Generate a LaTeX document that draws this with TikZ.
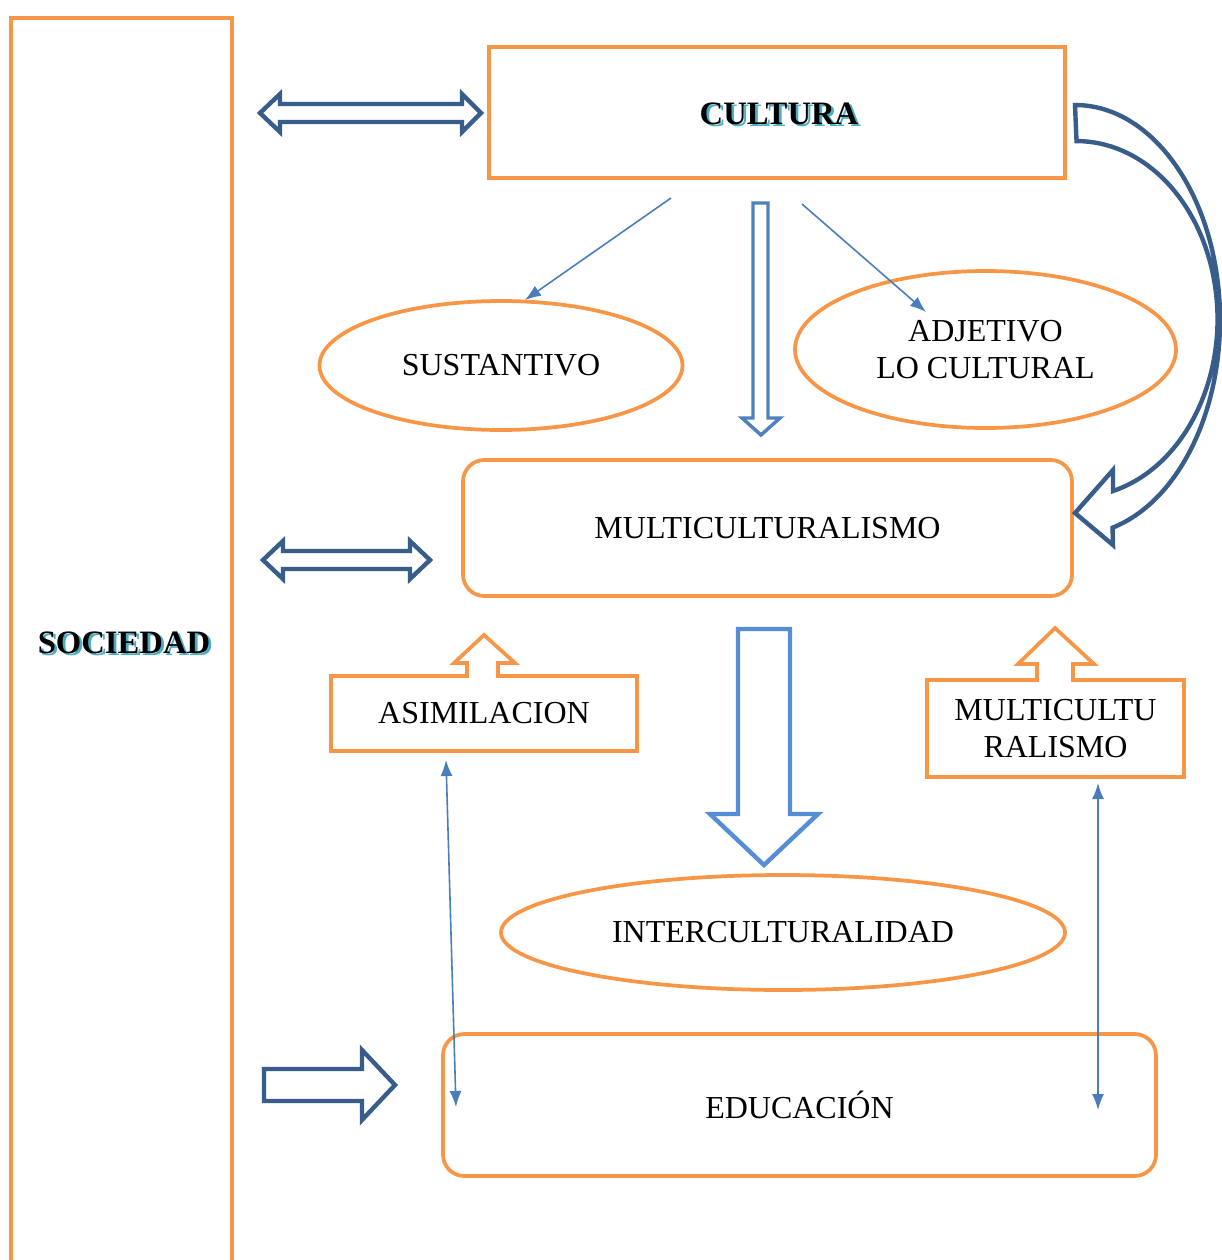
\documentclass[tikz,border=0pt]{standalone}
\usepackage{fontspec}
\setmainfont{Liberation Serif}
\usetikzlibrary{shapes.geometric,arrows.meta}
\definecolor{orng}{HTML}{F79646}
\definecolor{dblue}{HTML}{385D8A}
\definecolor{mblue}{HTML}{4A7EBB}
\definecolor{hblue}{HTML}{4F81BD}
\definecolor{lblue}{HTML}{558ED5}
\definecolor{aqua}{HTML}{4BACC6}
\newcommand\shadowword[1]{\makebox[0pt][l]{\hspace{2pt}\raisebox{-2pt}{\textcolor{aqua}{#1}}}#1}
\begin{document}
\begin{tikzpicture}[x=0.75pt,y=-0.75pt,
  txt/.style={font=\fontsize{24}{28}\selectfont,align=center,inner sep=0pt},
  box/.style={txt,draw=orng,line width=2.8pt,outer sep=0pt},
  rbox/.style={box,rounded corners=16pt},
  oval/.style={box,ellipse},
  title/.style={font=\bfseries\fontsize{24.5}{28}\selectfont,inner sep=0pt},
  hollow/.style={line width=3.3pt,line join=miter,fill=white},
  thinarrow/.style={draw=mblue,line width=1.2pt,-{Latex[length=12pt,width=9pt]}},
  thinboth/.style={draw=mblue,line width=1.2pt,{Latex[length=12pt,width=9pt]}-{Latex[length=12pt,width=9pt]}},
  uparrow/.style={draw=orng,line width=2.8pt,fill=white,line join=miter}
]
\useasboundingbox (0,0) rectangle (1221,1260);

% SOCIEDAD column
\draw[orng,line width=2.8pt] (11,1270) -- (11,18) -- (232,18) -- (232,1270);
\node[title] (soc) at (124,644) {\shadowword{SOCIEDAD}};

% CULTURA
\node[box,minimum width=576*0.75pt,minimum height=131*0.75pt] (cult) at (777,112.5) {};
\node[title] (culttxt) at (779,115) {\shadowword{CULTURA}};

% ellipses
\node[oval,minimum width=363*0.75pt,minimum height=129*0.75pt] (sus) at (501,365.5) {SUSTANTIVO};
\node[oval,minimum width=381*0.75pt,minimum height=157*0.75pt] (adj) at (985.5,349.5) {ADJETIVO\\LO CULTURAL};
\node[oval,minimum width=564*0.75pt,minimum height=115*0.75pt] (inter) at (783,932.5) {INTERCULTURALIDAD};

% rounded boxes
\node[rbox,minimum width=609*0.75pt,minimum height=136*0.75pt] (multi) at (767.5,528) {MULTICULTURALISMO};
\node[rbox,minimum width=713*0.75pt,minimum height=142*0.75pt] (edu) at (799.5,1105) {EDUCACIÓN};

% small boxes
\node[box,minimum width=306*0.75pt,minimum height=75*0.75pt] (asim) at (484,713.5) {ASIMILACION};
\node[box,minimum width=257*0.75pt,minimum height=97*0.75pt] (mult2) at (1055.5,728.5) {MULTICULTU\\RALISMO};

% up arrows on small boxes
\draw[uparrow] (467,677.8) -- (467,663) -- (454,663) -- (484,635) -- (515,663) -- (498,663) -- (498,677.8);
\draw[uparrow] (1037,681.8) -- (1037,664) -- (1018,664) -- (1055,628) -- (1094,664) -- (1073,664) -- (1073,681.8);

% double arrows
\draw[hollow,draw=dblue] (260,113) -- (280,94) -- (280,104) -- (462,104) -- (462,94) -- (481,113) -- (462,132) -- (462,122) -- (280,122) -- (280,132) -- cycle;
\draw[hollow,draw=dblue] (263,560) -- (283,541) -- (283,551) -- (410,551) -- (410,541) -- (430,560) -- (410,579) -- (410,569) -- (283,569) -- (283,579) -- cycle;

% block arrow to EDUCACION
\draw[hollow,draw=dblue] (264,1069) -- (362,1069) -- (362,1050) -- (395,1085) -- (362,1120) -- (362,1101) -- (264,1101) -- cycle;

% curved arrow
\draw[hollow,draw=dblue] (1075,105) arc[start angle=-90,end angle=75,x radius=145,y radius=215]
  -- (1113,545) -- (1075,513) -- (1113,470) -- (1113,491)
  arc[start angle=75,end angle=-90,x radius=141,y radius=178] -- cycle;

% hollow down arrows
\draw[hollow,draw=hblue,line width=2.6pt] (753,203) -- (768,203) -- (768,418) -- (780,418) -- (761,435) -- (742,418) -- (753,418) -- cycle;
\draw[hollow,draw=lblue] (738,629) -- (790,629) -- (790,814) -- (818,814) -- (764,865) -- (710,814) -- (738,814) -- cycle;

% thin arrows
\coordinate (c1) at (671,198);
\coordinate (s1) at (525,300);
\coordinate (c2) at (802,204);
\coordinate (a1) at (926,312);
\draw[thinarrow] (c1) -- (s1);
\draw[thinarrow] (c2) -- (a1);
\coordinate (as1) at (446,760);
\coordinate (ed1) at (456,1107);
\coordinate (mu1) at (1098,783);
\coordinate (ed2) at (1098,1110);
\draw[thinboth] (as1) -- (ed1);
\draw[thinboth] (mu1) -- (ed2);
\end{tikzpicture}
\end{document}
